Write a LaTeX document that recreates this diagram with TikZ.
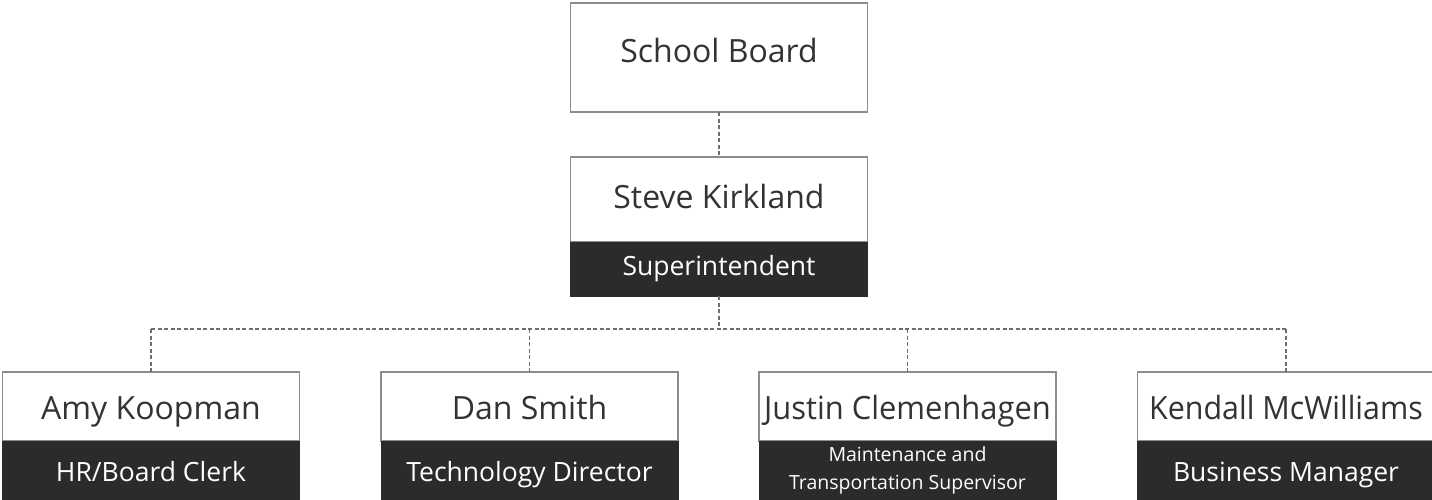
\documentclass[tikz,border=0pt]{standalone}
\usepackage{fontspec}
\setmainfont{Open Sans}
\definecolor{boxline}{HTML}{8C8C8C}
\definecolor{panel}{HTML}{2B2B2B}
\definecolor{ink}{HTML}{333333}
\definecolor{rulegray}{HTML}{6E6E6E}
\begin{document}
\begin{tikzpicture}[x=1pt,y=-1pt,
  card/.style={draw=boxline, line width=1.3pt, fill=white, minimum width=297pt, inner sep=0pt, outer sep=0pt, anchor=north},
  band/.style={draw=panel, fill=panel, minimum width=297pt, inner sep=0pt, outer sep=0pt, anchor=north},
  nametext/.style={text=ink, font=\fontsize{32}{38}\selectfont, anchor=base, inner sep=0pt},
  roletext/.style={text=white, font=\fontsize{26.5}{31}\selectfont, anchor=base, inner sep=0pt},
  smallrole/.style={text=white, font=\fontsize{19.5}{24}\selectfont, anchor=base, inner sep=0pt},
  link/.style={draw=rulegray, line width=1.1pt, dash pattern=on 4pt off 2.5pt}]
\useasboundingbox (0,0) rectangle (1432,499);

% top level
\node[card, minimum height=109pt] (board) at (719,3) {};
\node[nametext] (boardtext) at (719,62.7) {School Board};

% superintendent
\node[card, minimum height=85pt] (steve) at (719,157) {};
\node[band, minimum height=54pt] (steverole) at (719,242) {};
\node[nametext] (stevetext) at (719,208.3) {Steve Kirkland};
\node[roletext] (steveroletext) at (719,275.5) {Superintendent};

% direct reports
\node[card, minimum height=69pt] (amy) at (151,372) {};
\node[band, minimum height=62pt] (amyrole) at (151,441) {};
\node[nametext] (amytext) at (151,419) {Amy Koopman};
\node[roletext] (amyroletext) at (151,481) {HR/Board Clerk};

\node[card, minimum height=69pt] (dan) at (529.5,372) {};
\node[band, minimum height=62pt] (danrole) at (529.5,441) {};
\node[nametext] (dantext) at (529.5,419) {Dan Smith};
\node[roletext] (danroletext) at (529.5,481) {Technology Director};

\node[card, minimum height=69pt] (justin) at (907.5,372) {};
\node[band, minimum height=62pt] (justinrole) at (907.5,441) {};
\node[nametext] (justintext) at (907.5,419) {\scalebox{0.965}[1]{Justin Clemenhagen}};
\node[smallrole] (justinroleA) at (907.5,461.7) {Maintenance and};
\node[smallrole] (justinroleB) at (907.5,489.3) {Transportation Supervisor};

\node[card, minimum height=69pt] (kendall) at (1286,372) {};
\node[band, minimum height=62pt] (kendallrole) at (1286,441) {};
\node[nametext] (kendalltext) at (1286,419) {\scalebox{0.95}[1]{Kendall McWilliams}};
\node[roletext] (kendallroletext) at (1286,481) {Business Manager};

% reporting lines
\coordinate (hub) at (719,329);
\draw[link] (board.south) -- (steve.north);
\draw[link] (steverole.south) -- (hub);
\draw[link] (amy.north |- hub) -- (kendall.north |- hub);
\foreach \n in {amy,dan,justin,kendall}
  \draw[link] (\n.north |- hub) -- (\n.north);
\end{tikzpicture}
\end{document}
